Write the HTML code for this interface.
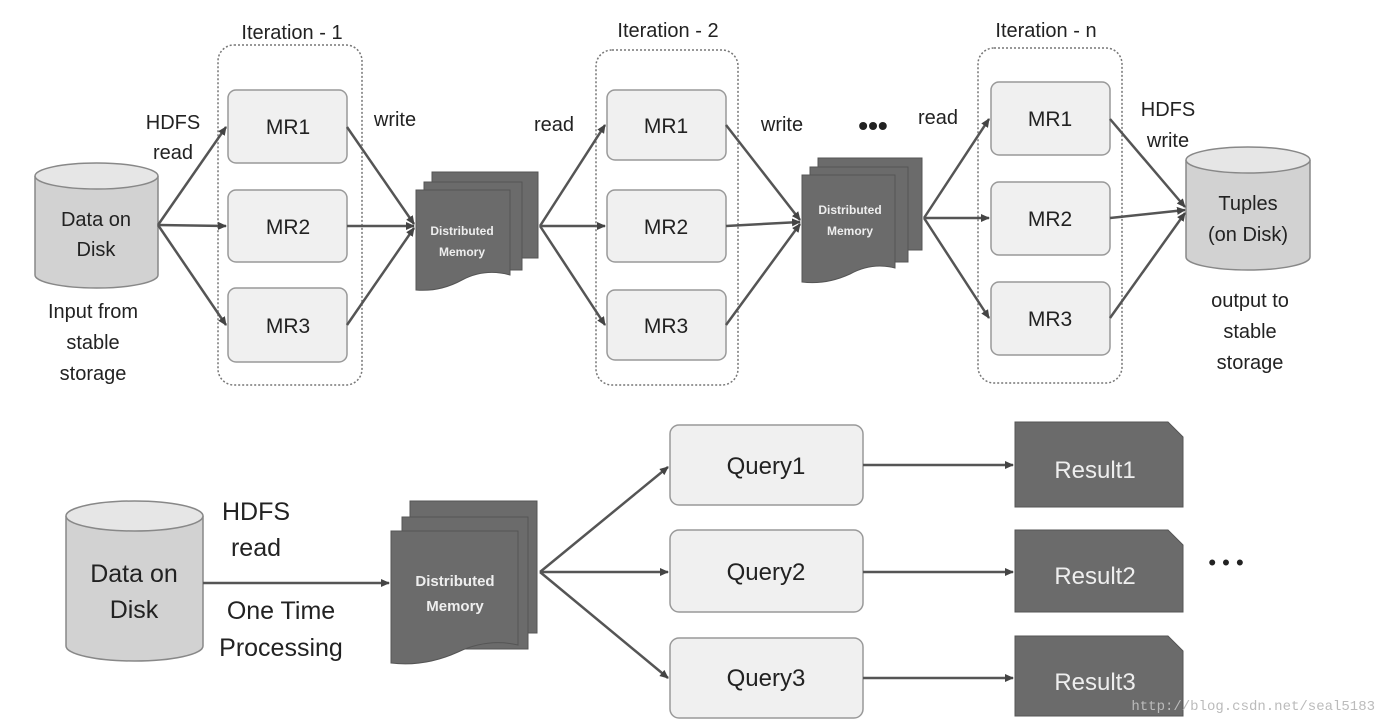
<!DOCTYPE html>
<html><head><meta charset="utf-8"><style>
html,body{margin:0;padding:0;background:#fff;width:1382px;height:725px;overflow:hidden}
svg{display:block;font-family:"Liberation Sans","DejaVu Sans",sans-serif}
</style></head><body>
<svg width="1382" height="725" viewBox="0 0 1382 725" xmlns="http://www.w3.org/2000/svg">
<defs>
<marker id="a" markerWidth="10" markerHeight="10" refX="8" refY="5" orient="auto" markerUnits="userSpaceOnUse"><path d="M0,1 L9,5 L0,9 Z" fill="#444"/></marker>
</defs>
<g fill="none" stroke="#777" stroke-width="1.5" stroke-dasharray="2,2">
<rect x="218" y="45" width="144" height="340" rx="16"/>
<rect x="596" y="50" width="142" height="335" rx="16"/>
<rect x="978" y="48" width="144" height="335" rx="16"/>
</g>
<g font-size="20" fill="#222" text-anchor="middle">
<text x="292" y="39">Iteration - 1</text>
<text x="668" y="37">Iteration - 2</text>
<text x="1046" y="37">Iteration - n</text>
</g>
<g fill="#f0f0f0" stroke="#999" stroke-width="1.5">
<rect x="228" y="90" width="119" height="73" rx="8"/>
<rect x="228" y="190" width="119" height="72" rx="8"/>
<rect x="228" y="288" width="119" height="74" rx="8"/>
<rect x="607" y="90" width="119" height="70" rx="8"/>
<rect x="607" y="190" width="119" height="72" rx="8"/>
<rect x="607" y="290" width="119" height="70" rx="8"/>
<rect x="991" y="82" width="119" height="73" rx="8"/>
<rect x="991" y="182" width="119" height="73" rx="8"/>
<rect x="991" y="282" width="119" height="73" rx="8"/>
<rect x="670" y="425" width="193" height="80" rx="9"/>
<rect x="670" y="530" width="193" height="82" rx="9"/>
<rect x="670" y="638" width="193" height="80" rx="9"/>
</g>
<g font-size="21" fill="#222" text-anchor="middle">
<text x="288" y="134">MR1</text><text x="288" y="234">MR2</text><text x="288" y="333">MR3</text>
<text x="666" y="133">MR1</text><text x="666" y="234">MR2</text><text x="666" y="333">MR3</text>
<text x="1050" y="126">MR1</text><text x="1050" y="226">MR2</text><text x="1050" y="326">MR3</text>
<text x="766" y="474" font-size="24">Query1</text>
<text x="766" y="580" font-size="24">Query2</text>
<text x="766" y="686" font-size="24">Query3</text>
</g>
<!-- cylinders -->
<g fill="#d2d2d2" stroke="#888" stroke-width="1.5">
<path d="M35,176 V275 A61.5,13 0 0 0 158,275 V176"/>
<ellipse cx="96.5" cy="176" rx="61.5" ry="13" fill="#e6e6e6"/>
<path d="M1186,160 V257 A62,13 0 0 0 1310,257 V160"/>
<ellipse cx="1248" cy="160" rx="62" ry="13" fill="#e6e6e6"/>
<path d="M66,516 V646 A68.5,15 0 0 0 203,646 V516"/>
<ellipse cx="134.5" cy="516" rx="68.5" ry="15" fill="#e6e6e6"/>
</g>
<g font-size="20" fill="#222" text-anchor="middle">
<text x="96" y="226">Data on</text><text x="96" y="256">Disk</text>
<text x="93" y="318">Input from</text><text x="93" y="349">stable</text><text x="93" y="380">storage</text>
<text x="1248" y="210">Tuples</text><text x="1248" y="241">(on Disk)</text>
<text x="1250" y="307">output to</text><text x="1250" y="338">stable</text><text x="1250" y="369">storage</text>
<text x="173" y="129">HDFS</text><text x="173" y="159">read</text>
<text x="395" y="126">write</text>
<text x="554" y="131">read</text>
<text x="782" y="131">write</text>
<text x="938" y="124">read</text>
<text x="1168" y="116">HDFS</text><text x="1168" y="147">write</text>
<text x="873" y="135" font-size="28" font-weight="bold">•••</text>
<text x="1226" y="570" font-size="22">• • •</text>
</g>
<g font-size="25" fill="#222" text-anchor="middle">
<text x="134" y="582">Data on</text><text x="134" y="618">Disk</text>
<text x="256" y="520">HDFS</text><text x="256" y="556">read</text>
<text x="281" y="619">One Time</text><text x="281" y="656">Processing</text>
</g>
<!-- distributed memory stacks -->
<g fill="#6b6b6b" stroke="#555" stroke-width="1">
<rect x="432" y="172" width="106" height="86"/>
<rect x="424" y="182" width="98" height="88"/>
<path d="M416,190 H510 V275 Q485,268 462,280 Q440,292 416,290 Z"/>
<rect x="818" y="158" width="104" height="92"/>
<rect x="810" y="167" width="98" height="95"/>
<path d="M802,175 H895 V268 Q872,262 850,274 Q826,285 802,282 Z"/>
<rect x="410" y="501" width="127" height="132"/>
<rect x="402" y="517" width="126" height="132"/>
<path d="M391,531 H518 V645 Q488,638 458,652 Q425,667 391,663 Z"/>
</g>
<g fill="#eee" text-anchor="middle" font-weight="bold">
<text x="462" y="235" font-size="12">Distributed</text><text x="462" y="256" font-size="12">Memory</text>
<text x="850" y="214" font-size="12">Distributed</text><text x="850" y="235" font-size="12">Memory</text>
<text x="455" y="586" font-size="15">Distributed</text><text x="455" y="611" font-size="15">Memory</text>
</g>
<!-- results -->
<g fill="#6b6b6b" stroke="#555">
<path d="M1015,422 H1168 L1183,437 V507 H1015 Z"/>
<path d="M1015,530 H1168 L1183,545 V612 H1015 Z"/>
<path d="M1015,636 H1168 L1183,651 V716 H1015 Z"/>
</g>
<g font-size="24" fill="#eee" text-anchor="middle">
<text x="1095" y="478">Result1</text><text x="1095" y="584">Result2</text><text x="1095" y="690">Result3</text>
</g>
<!-- connectors -->
<g stroke="#555" stroke-width="2.5" fill="none" marker-end="url(#a)">
<line x1="158" y1="225" x2="226" y2="127"/>
<line x1="158" y1="225" x2="226" y2="226"/>
<line x1="158" y1="225" x2="226" y2="325"/>
<line x1="347" y1="127" x2="414" y2="224"/>
<line x1="347" y1="226" x2="414" y2="226"/>
<line x1="347" y1="325" x2="414" y2="228"/>
<line x1="540" y1="226" x2="605" y2="125"/>
<line x1="540" y1="226" x2="605" y2="226"/>
<line x1="540" y1="226" x2="605" y2="325"/>
<line x1="726" y1="125" x2="800" y2="220"/>
<line x1="726" y1="226" x2="800" y2="222"/>
<line x1="726" y1="325" x2="800" y2="224"/>
<line x1="924" y1="218" x2="989" y2="119"/>
<line x1="924" y1="218" x2="989" y2="218"/>
<line x1="924" y1="218" x2="989" y2="318"/>
<line x1="1110" y1="119" x2="1185" y2="207"/>
<line x1="1110" y1="218" x2="1185" y2="210"/>
<line x1="1110" y1="318" x2="1185" y2="213"/>
<line x1="203" y1="583" x2="389" y2="583"/>
<line x1="540" y1="572" x2="668" y2="467"/>
<line x1="540" y1="572" x2="668" y2="572"/>
<line x1="540" y1="572" x2="668" y2="678"/>
<line x1="863" y1="465" x2="1013" y2="465"/>
<line x1="863" y1="572" x2="1013" y2="572"/>
<line x1="863" y1="678" x2="1013" y2="678"/>
</g>
<text x="1375" y="710" font-size="14" fill="#bbb" text-anchor="end" font-family="Liberation Mono,monospace">http://blog.csdn.net/seal5183</text>
</svg>
</body></html>
